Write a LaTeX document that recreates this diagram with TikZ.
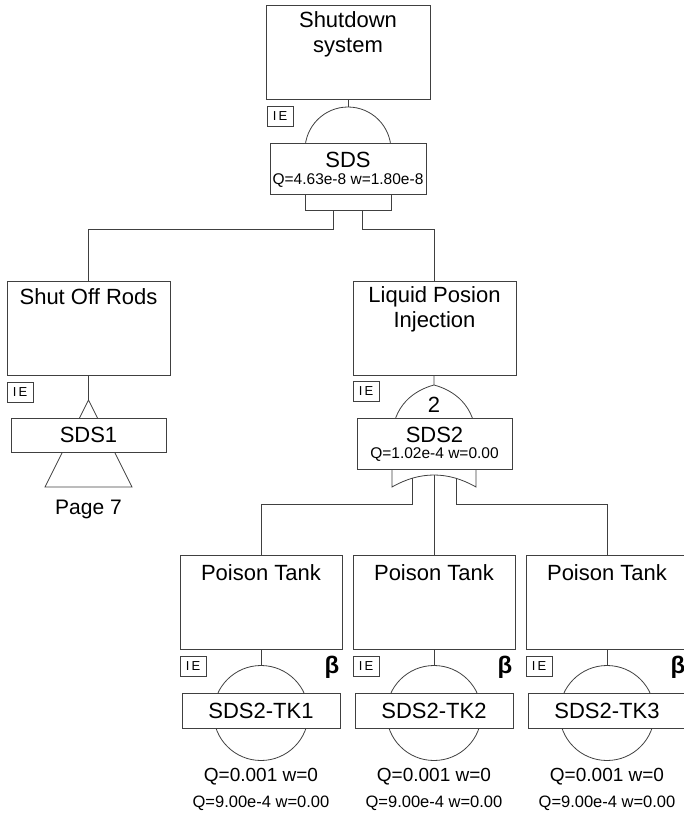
\documentclass[tikz,border=0pt]{standalone}
\usepackage{fontspec}
\setmainfont{Liberation Sans}
\usepackage{xcolor}
\usetikzlibrary{positioning}
\definecolor{wire}{HTML}{404040}
\newcommand{\qfont}{\fontsize{15.5}{17}\selectfont}

\begin{document}
\begin{tikzpicture}[x=1pt, y=-1pt, line width=0.8pt,
  every node/.style={inner sep=0pt, align=center, font=\fontsize{22}{25}\selectfont},
  evbox/.style={draw=wire, fill=white, minimum width=163pt, minimum height=94pt},
  gatebox/.style={draw=wire, fill=white, minimum width=156pt, minimum height=51pt},
  basebox/.style={draw=wire, fill=white, minimum width=158pt, minimum height=35pt},
  iebox/.style={draw=wire, minimum width=26pt, minimum height=20pt, font=\fontsize{13}{13}\selectfont},
  qtext/.style={font=\qfont}]
\useasboundingbox (0,0) rectangle (684,815);

\node[evbox, minimum width=164pt] (sdsev) at (348,52) {};
\node at (348,34.5) {Shutdown\\system};
\node[iebox] (sdsie) at (280,116) {I\,E};
\node[draw=wire, circle, minimum size=86pt] (sdsgate) at (348,150) {};
\draw[wire] (sdsev) -- (sdsgate);
\node[gatebox] (sds) at (348,168.5) {};
\node at (348,160) {SDS};
\node[qtext] at (348,181) {Q=4.63e-8 w=1.80e-8};
\draw[wire] (305,194) |- (391,210) -- (391,194);
\coordinate (sdsin1) at (333,210);
\coordinate (sdsin2) at (362,210);

\node[evbox] (rods) at (88.5,328) {};
\node at (88.5,297) {Shut Off Rods};
\node[iebox] (rodsie) at (20,392) {I\,E};
\coordinate (sds1tri) at (88.5,400);
\draw[wire] (rods) -- (sds1tri);
\draw[wire] (sds1tri) -- (132,487) -- (45,487) -- cycle;
\node[draw=wire, fill=white, minimum width=155pt, minimum height=34pt] (sds1) at (88.5,435) {SDS1};
\node[font=\fontsize{21}{24}\selectfont] (page) at (88.5,509) {Page 7};

\node[evbox] (lpi) at (434.5,328) {};
\node at (434.5,309.5) {Liquid Posion\\Injection};
\node[iebox] (lpiie) at (366,391) {I\,E};
\coordinate (sds2gate) at (434,385);
\draw[wire] (lpi) -- (sds2gate);
\draw[wire] (392,487) -- (392,440) .. controls (392,405) and (415,390) .. (sds2gate)
  .. controls (453,390) and (476,405) .. (476,440) -- (476,487)
  .. controls (448,471) and (420,471) .. cycle;
\node at (434,405) {2};
\node[gatebox, minimum width=155pt] (sds2) at (434.5,443.5) {};
\node at (434.5,435) {SDS2};
\node[qtext] at (434.5,455) {Q=1.02e-4 w=0.00};
\coordinate (sds2in1) at (412,478);
\coordinate (sds2in2) at (434,475);
\coordinate (sds2in3) at (456,478);

\foreach \i/\x in {1/261, 2/434, 3/607} {
  \node[evbox, minimum width=162pt] (tk\i) at (\x,602.5) {};
  \node at (\x,573) {Poison Tank};
  \node[iebox] at (\x-68,666.5) {I\,E};
  \node[font=\fontsize{24}{25}\selectfont\bfseries] at (\x+71,667) {β};
  \node[draw=wire, circle, minimum size=95pt] (tk\i gate) at (\x,713) {};
  \draw[wire] (tk\i) -- (tk\i gate);
  \node[basebox] (tk\i base) at (\x,710.5) {SDS2-TK\i};
  \node[font=\fontsize{19}{21}\selectfont] at (\x,777) {Q=0.001 w=0};
  \node[font=\fontsize{16.5}{18}\selectfont] at (\x,803) {Q=9.00e-4 w=0.00};
}

\draw[wire] (sdsin1) -- ++(0,19) -| (rods.north);
\draw[wire] (sdsin2) -- ++(0,19) -| (lpi.north);
\draw[wire] (sds2in1) -- ++(0,26) -| (tk1.north);
\draw[wire] (sds2in2) -- (tk2);
\draw[wire] (sds2in3) -- ++(0,26) -| (tk3.north);
\end{tikzpicture}
\end{document}
